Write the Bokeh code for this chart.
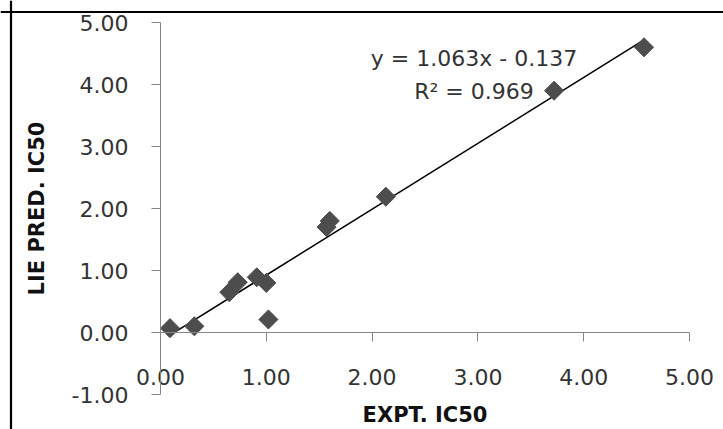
from bokeh.plotting import figure
from bokeh.models import Label, NumeralTickFormatter, FixedTicker, Range1d, Span
from bokeh.embed import file_html
from bokeh.resources import INLINE
import numpy as np

# data
expt = [0.09, 0.32, 0.65, 0.73, 0.91, 1.00, 1.02, 1.57, 1.60, 2.13, 3.72, 4.57]
pred = [0.07, 0.10, 0.65, 0.81, 0.89, 0.80, 0.21, 1.70, 1.80, 2.19, 3.90, 4.60]
slope = 1.063
intercept = -0.137
r2 = 0.969
x_ticks = [0, 1, 2, 3, 4, 5]
y_ticks = [-1, 0, 1, 2, 3, 4, 5]

FONT = "DejaVu Sans"

# layout: the plotting frame covers the whole canvas; axes are drawn at fixed locations
W, H = 723, 429
KX, KY = 105.8, 62.0          # pixels per unit
X0_PX, Y5_PX = 160.0, 22.0    # canvas position of x=0 and y=5
xs = -X0_PX / KX
xe = xs + W / KX
ye = 5 + Y5_PX / KY
ys = ye - H / KY

p = figure(width=W, height=H, output_backend="svg", toolbar_location=None,
           x_range=Range1d(xs, xe), y_range=Range1d(ys, ye),
           min_border=0)
p.outline_line_color = None
p.xgrid.visible = False
p.ygrid.visible = False
p.background_fill_color = "white"
p.border_fill_color = "white"

# chart-area border (top and left edges)
p.add_layout(Span(location=ye - 11.5 / KY, dimension="width", line_color="black", line_width=2.2))
p.add_layout(Span(location=xs + 10.5 / KX, dimension="height", line_color="black", line_width=2.2))

# x axis at y = 0
xa = p.xaxis[0]
xa.fixed_location = 0
xa.bounds = (x_ticks[0], x_ticks[-1])
xa.ticker = FixedTicker(ticks=x_ticks)
xa.formatter = NumeralTickFormatter(format="0.00")
xa.axis_line_color = "#868686"
xa.major_tick_line_color = "#868686"
xa.major_tick_out = 9
xa.major_tick_in = 0
xa.minor_tick_line_color = None
xa.major_label_standoff = 27
xa.major_label_text_font = FONT
xa.major_label_text_font_size = "22px"
xa.major_label_text_color = "#333333"
xa.axis_label = "EXPT. IC50"
xa.axis_label_text_font = FONT
xa.axis_label_text_font_style = "bold"
xa.axis_label_text_font_size = "21px"
xa.axis_label_text_color = "#111111"
xa.axis_label_standoff = 15

# y axis at x = 0
ya = p.yaxis[0]
ya.fixed_location = 0
ya.bounds = (y_ticks[0], y_ticks[-1])
ya.ticker = FixedTicker(ticks=y_ticks)
ya.formatter = NumeralTickFormatter(format="0.00")
ya.axis_line_color = "#868686"
ya.major_tick_line_color = "#868686"
ya.major_tick_out = 9
ya.major_tick_in = 0
ya.minor_tick_line_color = None
ya.major_label_standoff = 23
ya.major_label_text_font = FONT
ya.major_label_text_font_size = "22px"
ya.major_label_text_color = "#333333"
ya.axis_label = "LIE PRED. IC50"
ya.axis_label_text_font = FONT
ya.axis_label_text_font_style = "bold"
ya.axis_label_text_font_size = "21px"
ya.axis_label_text_color = "#111111"
ya.axis_label_standoff = 20

# trendline over data x-range
x0, x1 = min(expt), max(expt)
p.line([x0, x1], [slope * x0 + intercept, slope * x1 + intercept], line_color="black", line_width=1.5)

p.scatter(expt, pred, marker="square", size=13.5, angle=np.pi / 4,
          fill_color="#4D4D4D", line_color="#4D4D4D")

eq = f"y = {slope:.3f}x - {abs(intercept):.3f}"
p.add_layout(Label(x=2.963, y=4.42, text=eq, text_align="center", text_baseline="middle",
                   text_font=FONT, text_font_size="22px", text_color="#333333"))
p.add_layout(Label(x=2.963, y=3.88, text=f"R\u00b2 = {r2:.3f}", text_align="center", text_baseline="middle",
                   text_font=FONT, text_font_size="22px", text_color="#333333"))

open("out.html", "w").write(file_html(p, INLINE))
